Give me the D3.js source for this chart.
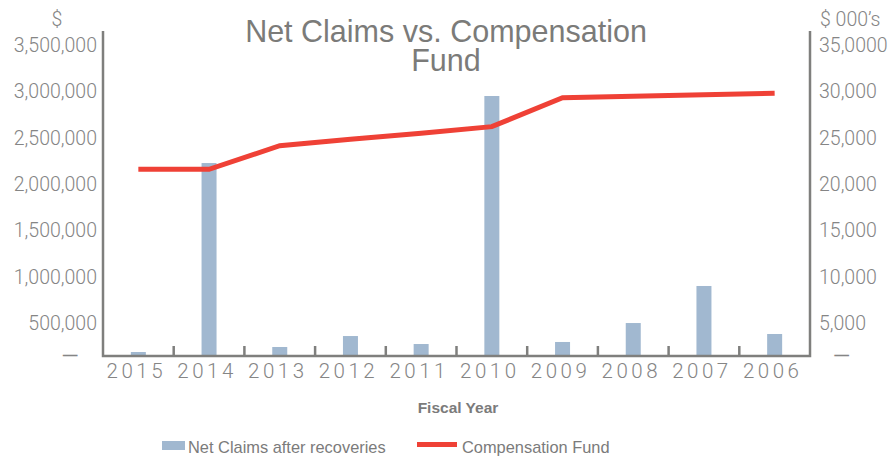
<!DOCTYPE html>
<html>
<head>
<meta charset="utf-8">
<script src="https://cdn.jsdelivr.net/npm/d3@7"></script>
<style>
  body { margin: 0; background: #fff; }
  svg { display: block; }
  .tick-label { font-family: Roboto, "Liberation Sans", sans-serif; font-weight: 300; fill: #858585; }
  .title { font-family: "Liberation Sans", Arial, sans-serif; fill: #7b7b79; }
  .legend { font-family: "Liberation Sans", Arial, sans-serif; fill: #7b7b7b; }
</style>
</head>
<body>
<div id="chart"></div>
<script>
'use strict';

const WIDTH = 892;
const HEIGHT = 456;

// fiscal years, left to right
const years = ['2015', '2014', '2013', '2012', '2011', '2010', '2009', '2008', '2007', '2006'];
// net claims after recoveries, $
const netClaims = [43000, 2078000, 97000, 215000, 129000, 2800000, 151000, 355000, 754000, 237000];
// compensation fund, $ 000's
const compFund = [20100, 20100, 22650, 23330, 24000, 24700, 27820, 27980, 28130, 28290];

const leftTicks = [0, 500000, 1000000, 1500000, 2000000, 2500000, 3000000, 3500000];
const leftTickLabels = ['–', '500,000', '1,000,000', '1,500,000', '2,000,000', '2,500,000', '3,000,000', '3,500,000'];
const rightTicks = [0, 5000, 10000, 15000, 20000, 25000, 30000, 35000];
const rightTickLabels = ['–', '5,000', '10,000', '15,000', '20,000', '25,000', '30,000', '35,0000'];

const margin = { left: 103, right: 810, top: 31, bottom: 356 };
const AXIS_COLOR = '#7f7f7d';
const BAR_COLOR = '#a1b8d0';
const LINE_COLOR = '#ef4136';
const LABEL_SHIFT = 14;   // labels sit a little below their gridline in the original

const svg = d3.select('#chart').append('svg')
    .attr('width', WIDTH)
    .attr('height', HEIGHT);

const x = d3.scaleBand()
    .domain(years)
    .range([margin.left, margin.right])
    .padding(0);

const yLeft = d3.scaleLinear()
    .domain([0, 3500000])
    .range([margin.bottom, margin.top]);

const yRight = d3.scaleLinear()
    .domain([0, 35000])
    .range([margin.bottom, margin.top]);

// title
const title = svg.append('text')
    .attr('class', 'title')
    .attr('text-anchor', 'middle')
    .attr('font-size', 30.5);
title.append('tspan').attr('x', 446).attr('y', 42).text('Net Claims vs. Compensation');
title.append('tspan').attr('x', 446).attr('y', 70.5).text('Fund');

// bars
svg.append('g')
  .selectAll('rect')
    .data(years)
    .enter()
    .append('rect')
    .attr('x', (d) => x(d) + x.bandwidth() / 2 - 7.5)
    .attr('y', (d, i) => yLeft(netClaims[i]))
    .attr('width', 15)
    .attr('height', (d, i) => yLeft(0) - yLeft(netClaims[i]))
    .style('fill', BAR_COLOR);

// compensation fund line
const line = d3.line()
    .x((d, i) => x(years[i]) + x.bandwidth() / 2)
    .y((d) => yRight(d));

svg.append('path')
    .datum(compFund)
    .attr('d', line)
    .attr('fill', 'none')
    .attr('stroke', LINE_COLOR)
    .attr('stroke-width', 5)
    .attr('stroke-linejoin', 'miter');

// axis lines
const axes = svg.append('g')
    .attr('stroke', AXIS_COLOR)
    .attr('stroke-width', 2.5)
    .attr('fill', 'none');
axes.append('path')
    .attr('d', 'M' + margin.left + ',' + yLeft(3500000) + 'V' + yLeft(0) + 'H' + margin.right + 'V' + yRight(35000));

// category separator ticks
axes.selectAll('line')
    .data(years.slice(1))
    .enter()
    .append('line')
    .attr('x1', (d) => x(d))
    .attr('x2', (d) => x(d))
    .attr('y1', yLeft(0))
    .attr('y2', yLeft(0) - 10);

// left axis
const leftAxis = svg.append('g')
    .attr('transform', 'translate(' + (margin.left - 6) + ',0)')
    .call(d3.axisLeft(yLeft)
      .tickValues(leftTicks)
      .tickSize(0)
      .tickPadding(0)
      .tickFormat((d, i) => leftTickLabels[i]));
leftAxis.select('.domain').remove();
leftAxis.selectAll('text')
    .attr('class', 'tick-label')
    .attr('font-size', 19.5)
    .attr('dy', (d) => d === 0 ? '0.3em' : (LABEL_SHIFT / 19.5 + 0.32) + 'em')
    .attr('dx', (d) => d === 0 ? -17 : 0)
    .style('font-size', (d) => d === 0 ? '30px' : null);

// right axis
const rightAxis = svg.append('g')
    .attr('transform', 'translate(' + (margin.right + 9) + ',0)')
    .call(d3.axisRight(yRight)
      .tickValues(rightTicks)
      .tickSize(0)
      .tickPadding(0)
      .tickFormat((d, i) => rightTickLabels[i]));
rightAxis.select('.domain').remove();
rightAxis.selectAll('text')
    .attr('class', 'tick-label')
    .attr('font-size', 19.5)
    .attr('dy', (d) => d === 0 ? '0.3em' : (LABEL_SHIFT / 19.5 + 0.32) + 'em')
    .attr('dx', (d) => d === 0 ? 13 : 0)
    .style('font-size', (d) => d === 0 ? '30px' : null);

// axis unit labels
svg.append('text')
    .attr('class', 'tick-label')
    .attr('font-size', 19.5)
    .attr('x', 57)
    .attr('y', 26)
    .attr('text-anchor', 'middle')
    .text('$');
svg.append('text')
    .attr('class', 'tick-label')
    .attr('font-size', 19.5)
    .attr('x', 820)
    .attr('y', 26)
    .text('$ 000\u2019s');

// year labels
const bottomAxis = svg.append('g')
    .attr('transform', 'translate(0,' + yLeft(0) + ')')
    .call(d3.axisBottom(x).tickSize(0).tickPadding(0));
bottomAxis.select('.domain').remove();
bottomAxis.selectAll('text')
    .attr('class', 'tick-label')
    .attr('font-size', 20.5)
    .attr('dy', '1.05em')
    .attr('dx', -2)
    .style('letter-spacing', '3.5px');

// x axis title
svg.append('text')
    .attr('class', 'legend')
    .attr('font-size', 15.5)
    .attr('font-weight', 'bold')
    .attr('x', 458)
    .attr('y', 412.5)
    .attr('text-anchor', 'middle')
    .text('Fiscal Year');

// legend
const legend = svg.append('g');
legend.append('rect')
    .attr('x', 162)
    .attr('y', 441)
    .attr('width', 23)
    .attr('height', 9)
    .style('fill', BAR_COLOR);
legend.append('text')
    .attr('class', 'legend')
    .attr('font-size', 16.4)
    .attr('x', 188)
    .attr('y', 452.5)
    .text('Net Claims after recoveries');
legend.append('line')
    .attr('x1', 417)
    .attr('x2', 457)
    .attr('y1', 444.5)
    .attr('y2', 444.5)
    .attr('stroke', LINE_COLOR)
    .attr('stroke-width', 5);
legend.append('text')
    .attr('class', 'legend')
    .attr('font-size', 16.4)
    .attr('x', 462)
    .attr('y', 452.5)
    .text('Compensation Fund');
</script>
</body>
</html>
